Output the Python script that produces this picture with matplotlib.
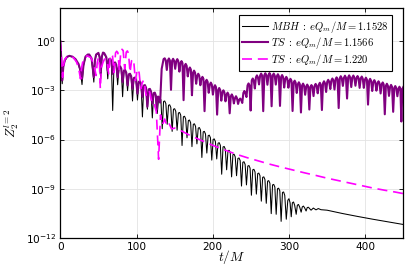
import numpy as np
import matplotlib
matplotlib.use("Agg")
import matplotlib.pyplot as plt
from matplotlib.font_manager import FontProperties
from matplotlib.ticker import FixedLocator, FuncFormatter

# values are (t/M, log10|Z|)
mbh_pts = [
    (0, 0), (1.2, -1.0), (2.5, -2.6), (4, -1.6), (6, -1.2), (9, -0.98), (12, -0.92), (16, -0.97),
    (20, -1.15), (24, -1.45), (26.5, -1.9), (28.5, -2.65), (30.5, -1.5), (33, -1.0), (36, -0.85),
    (38, -0.85), (41, -1.1), (44, -2.5), (45.5, -1.2), (47, -0.85), (50, -0.75), (51.5, -1.0),
    (53, -2.3), (54.5, -1.0), (56, -0.72), (57.5, -0.78),
    (59, -0.89), (60.5, -1.05), (62.25, -2.30), (64, -1.15), (65.5, -1.12), (67, -1.28), (68.75, -4.23),
    (70.5, -1.38), (72, -1.35), (73.5, -1.51), (75.25, -2.66), (77, -1.61), (78.5, -1.58), (80, -1.74),
    (81.75, -3.39), (83.5, -1.84), (85, -1.81), (86.5, -1.97), (88.25, -3.02), (90, -2.07), (91.5, -2.04),
    (93, -2.20), (94.75, -3.65), (96.5, -2.30), (98, -2.27), (99.5, -2.43), (101.25, -3.59), (103, -2.53),
    (104.5, -2.50), (106, -2.66), (107.75, -4.62), (109.5, -2.76), (111, -2.73), (112.5, -2.89),
    (114.25, -4.15), (116, -2.99), (117.5, -2.96), (119, -3.12), (120.75, -4.68), (122.5, -3.22),
    (124, -3.19), (125.5, -3.35), (127.25, -4.41), (129, -3.45), (130.5, -3.42), (132, -3.58),
    (133.75, -5.34), (135.5, -3.68), (137, -3.65), (138.5, -3.81), (140.25, -5.07), (142, -3.91),
    (143.5, -3.88), (145, -4.04), (146.75, -5.50), (148.5, -4.15), (150, -4.12), (151.5, -4.28),
    (153.25, -5.43), (155, -4.38), (156.5, -4.35), (158, -4.51), (159.75, -6.36), (161.5, -4.61),
    (163, -4.58), (164.5, -4.74), (166.25, -5.89), (168, -4.84), (169.5, -4.81), (171, -4.97),
    (172.75, -6.43), (174.5, -5.07), (176, -5.04), (177.5, -5.20), (179.25, -6.26), (181, -5.30),
    (182.5, -5.27), (184, -5.43), (185.75, -7.09), (187.5, -5.53), (189, -5.50), (190.5, -5.66),
    (192.25, -6.82), (194, -5.76), (195.5, -5.73), (197, -5.89), (198.75, -7.25), (200.5, -5.99),
    (202, -5.96), (203.5, -6.12), (205.25, -7.18), (207, -6.22), (208.5, -6.19), (210, -6.35),
    (211.75, -8.11), (213.5, -6.45), (215, -6.42), (216.5, -6.58), (218.25, -7.84), (220, -6.68),
    (221.5, -6.65), (223, -6.81), (224.75, -8.27), (226.5, -6.92), (228, -6.89), (229.5, -7.05),
    (231.25, -8.20), (233, -7.15), (234.5, -7.12), (236, -7.28), (237.75, -8.83), (239.5, -7.38),
    (241, -7.35), (242.5, -7.51), (244.25, -8.76), (246, -7.61), (247.5, -7.58), (249, -7.74),
    (250.75, -9.39), (252.5, -7.84), (254, -7.81), (255.5, -7.97), (257.25, -9.32), (259, -8.07),
    (260.5, -8.04), (262, -8.20), (263.75, -9.75), (265.5, -8.30), (267, -8.27), (268.5, -8.43),
    (270.25, -9.88), (272, -8.53), (273.5, -8.50), (275, -8.66), (276.75, -10.51), (278.5, -8.76),
    (280, -8.73), (281.5, -8.89), (283.25, -10.55), (285, -8.99), (286.5, -8.96), (288, -9.12),
    (289.75, -10.98), (291.5, -9.22), (293, -9.19), (294.5, -9.4), (296.5, -10.85), (298.5, -9.7),
    (300, -9.6), (301.5, -9.85), (303, -10.7), (304.5, -9.85), (306, -9.8), (307.5, -10.0),
    (309.5, -10.55), (311, -10.0), (312.5, -9.95), (314, -10.1), (316, -10.42), (317.5, -10.1),
    (319, -10.05), (320.5, -10.15), (322.5, -10.35), (324, -10.14), (325.5, -10.12), (327, -10.2),
    (329, -10.3), (332, -10.17), (335.5, -10.28), (338.5, -10.2), (342, -10.27), (350, -10.3),
    (370, -10.5), (390, -10.68), (410, -10.85), (430, -11.01), (450, -11.17),
]

ts1_pts = [
    (0, 0), (1.2, -1.0), (2.5, -2.4), (4, -1.55), (6, -1.15), (9, -0.95), (12, -0.9), (16, -0.95),
    (20, -1.1), (24, -1.4), (26.5, -1.8), (28.5, -2.3), (30.5, -1.45), (33, -0.95), (36, -0.82),
    (38, -0.82), (41, -1.05), (44, -2.2), (45.5, -1.15), (47, -0.82), (50, -0.72), (51.5, -0.95),
    (53, -2.0), (54.5, -0.95), (56, -0.7), (57.5, -0.73),
    (59, -0.85), (60.5, -1.0), (62.25, -1.8), (64, -1.1), (65.5, -1.07), (67, -1.22), (68.75, -2.0),
    (70.5, -1.33), (72, -1.30), (73.5, -1.45), (75.25, -2.2), (77, -1.56), (78.5, -1.53), (80, -1.68),
    (81.75, -2.5), (83.5, -1.79), (85, -1.76), (86.5, -1.91), (88.25, -2.7), (90, -2.02), (91.5, -1.99),
    (93, -2.14), (94.75, -2.9), (96.5, -2.25), (98, -2.22), (99.5, -2.37), (101.25, -3.2), (103, -2.48),
    (104.5, -2.45), (106, -2.60), (107.75, -3.4), (109.5, -2.71), (111, -2.68), (112.5, -2.83),
    (114.25, -4.0), (116, -2.94), (117.5, -2.91), (119, -3.06), (120.75, -3.8), (122.5, -3.17),
    (124, -3.14), (125.2, -3.3), (126.5, -4.2), (127.6, -3.4), (128.5, -3.38), (131, -3.75),
    (133, -1.7), (135.5, -1.1),
    (137, -1.05), (138.3, -1.17), (139.75, -1.76), (141.2, -1.18), (142.5, -1.06), (143.8, -1.18),
    (145.25, -2.97), (146.7, -1.20), (148, -1.08), (149.3, -1.20), (150.75, -1.69), (152.2, -1.22),
    (153.5, -1.10), (154.8, -1.22), (156.25, -1.86), (157.7, -1.34), (159, -1.22), (160.3, -1.34),
    (161.75, -3.6), (163.2, -1.51), (164.5, -1.39), (165.8, -1.51), (167.25, -2.15), (168.7, -1.73),
    (170, -1.61), (171.3, -1.73), (172.75, -3.3), (174.2, -1.92), (175.5, -1.80), (176.8, -1.92),
    (178.25, -2.6), (179.7, -2.11), (181, -1.99), (182.3, -2.11), (183.75, -2.69), (185.2, -2.30),
    (186.5, -2.18), (187.8, -2.30), (189.25, -4.27), (190.7, -2.48), (192, -2.36), (193.3, -2.48),
    (194.75, -3.15), (196.2, -2.65), (197.5, -2.53), (198.8, -2.65), (200.25, -3.26), (201.7, -2.81),
    (203, -2.69), (204.3, -2.81), (205.75, -4.48), (207.2, -2.98), (208.5, -2.86), (209.8, -2.98),
    (211.25, -3.63), (212.7, -3.12), (214, -3.00), (215.3, -3.12), (216.75, -3.67), (218.2, -3.26),
    (219.5, -3.14), (220.8, -3.26), (222.25, -4.4), (223.7, -3.37), (225, -3.25), (226.3, -3.37),
    (227.75, -3.8), (229.2, -3.48), (230.5, -3.36), (231.8, -3.48), (233.25, -3.83), (234.7, -3.58),
    (236, -3.50), (237.3, -3.58), (238.75, -3.77), (240.2, -3.16), (241.5, -3.04), (242.8, -3.16),
    (244.25, -3.41), (245.7, -2.70), (247, -2.58), (248.3, -2.70), (249.75, -4.23), (251.2, -2.40),
    (252.5, -2.28), (253.8, -2.40), (255.25, -2.89), (256.7, -2.21), (258, -2.09), (259.3, -2.21),
    (260.75, -2.64), (262.2, -2.10), (263.5, -1.98), (264.8, -2.10), (266.25, -4.27), (267.7, -2.08),
    (269, -1.96), (270.3, -2.08), (271.75, -2.66), (273.2, -2.07), (274.5, -1.95), (275.8, -2.07),
    (277.25, -3.97), (278.7, -2.10), (280, -1.98), (281.3, -2.10), (282.75, -2.65), (284.2, -2.14),
    (285.5, -2.02), (286.8, -2.14), (288.25, -3.95), (289.7, -2.19), (291, -2.07), (292.3, -2.19),
    (293.75, -2.83), (295.2, -2.30), (296.5, -2.18), (297.8, -2.30), (299.25, -2.84), (300.7, -2.42),
    (302, -2.30), (303.3, -2.42), (304.75, -4.26), (306.2, -2.53), (307.5, -2.41), (308.8, -2.53),
    (310.25, -3.16), (311.7, -2.63), (313, -2.51), (314.3, -2.63), (315.75, -4.35), (317.2, -2.71),
    (318.5, -2.59), (319.8, -2.71), (321.25, -3.27), (322.7, -2.77), (324, -2.65), (325.3, -2.77),
    (326.75, -4.17), (328.2, -2.80), (329.5, -2.68), (330.8, -2.80), (332.25, -3.35), (333.7, -2.73),
    (335, -2.61), (336.3, -2.73), (337.75, -3.18), (339.2, -2.66), (340.5, -2.54), (341.8, -2.66),
    (343.25, -4.2), (344.7, -2.57), (346, -2.45), (347.3, -2.57), (348.75, -3.1), (350.2, -2.48),
    (351.5, -2.36), (352.8, -2.48), (354.25, -2.92), (355.7, -2.40), (357, -2.28), (358.3, -2.40),
    (359.75, -2.95), (361.2, -2.33), (362.5, -2.21), (363.8, -2.33), (365.25, -4.08), (366.7, -2.26),
    (368, -2.14), (369.3, -2.26), (370.75, -2.73), (372.2, -2.23), (373.5, -2.11), (374.8, -2.23),
    (376.25, -3.5), (377.7, -2.21), (379, -2.09), (380.3, -2.21), (381.75, -2.8), (383.2, -2.22),
    (384.5, -2.10), (385.8, -2.22), (387.25, -2.72), (388.7, -2.25), (390, -2.13), (391.3, -2.25),
    (392.75, -2.85), (394.2, -2.28), (395.5, -2.16), (396.8, -2.28), (398.25, -2.85), (399.7, -2.35),
    (401, -2.23), (402.3, -2.35), (403.75, -3.87), (405.2, -2.42), (406.5, -2.30), (407.8, -2.42),
    (409.25, -3.04), (410.7, -2.50), (412, -2.38), (413.3, -2.50), (414.75, -3.02), (416.2, -2.57),
    (417.5, -2.45), (418.8, -2.57), (420.25, -3.19), (421.7, -2.64), (423, -2.52), (424.3, -2.64),
    (425.75, -4.46), (427.2, -2.72), (428.5, -2.60), (429.8, -2.72), (431.25, -3.34), (432.7, -2.79),
    (434, -2.67), (435.3, -2.79), (436.75, -4.31), (438.2, -2.86), (439.5, -2.74), (440.8, -2.86),
    (442.25, -3.36), (443.7, -2.90), (445, -2.78), (446.2, -2.9), (447.5, -4.9), (448.8, -2.92),
    (450, -2.80),
]

ts2_pts = [
    (0, 0), (1.5, -1.0), (3, -2.2), (4.5, -1.4), (6, -1.1), (10, -0.9), (17, -1.0), (21, -1.25),
    (23, -1.5), (25, -1.9), (26.5, -2.3), (28, -1.6), (30, -1.15), (35, -0.9), (40, -1.0), (44, -1.4),
    (47, -2.1), (48.5, -1.3), (50, -1.0), (51.5, -1.5), (52.5, -2.9), (54, -1.6), (56, -1.3), (58, -1.1),
    (60, -1.1), (61.5, -1.25), (63.5, -2.0), (65.5, -0.95), (67, -0.8), (68.5, -0.9), (70.5, -1.9),
    (72.5, -0.72), (74, -0.62), (75.5, -0.7), (77.5, -1.8), (79.5, -0.58), (81, -0.5), (82.5, -0.58),
    (84.5, -1.7), (86.5, -0.68), (88, -0.6), (89.5, -0.75), (91.5, -1.9), (93.5, -1.2), (95, -1.1),
    (96.5, -1.3), (98.5, -2.4), (100.5, -1.85), (102, -1.7), (103.5, -1.95), (105.5, -2.9),
    (107.5, -2.55), (109, -2.4), (110.5, -2.6), (112.5, -3.3), (114.5, -3.1), (116, -3.0),
    (117.5, -3.15), (119.5, -3.6), (121.5, -3.85), (123, -3.8), (126, -4.3), (129, -7.2),
    (131.5, -4.5), (134, -5.1), (137, -4.75), (140, -5.2), (143, -5.05), (146, -5.35), (150, -5.3),
    (160, -5.5), (170, -5.74), (185, -6.05), (200, -6.35), (215, -6.62), (230, -6.88), (245, -7.1),
    (260, -7.3), (275, -7.5), (290, -7.68), (305, -7.85), (320, -8.02), (335, -8.18), (350, -8.35),
    (365, -8.5), (380, -8.65), (395, -8.8), (410, -8.95), (425, -9.08), (440, -9.2), (450, -9.29),
]

labels = [r"$MBH\;:\;eQ_m/M = 1.1528$", r"$TS\;:\;eQ_m/M = 1.1566$", r"$TS\;:\;eQ_m/M = 1.220$"]
xticks = [0, 100, 200, 300, 400]
yticks = [1e0, 1e-3, 1e-6, 1e-9, 1e-12]

fig = plt.figure(figsize=(4.11, 2.74), dpi=100)
ax = fig.add_axes([0.1467, 0.131, 0.8345, 0.839])

t, lz = np.array(mbh_pts).T
ax.plot(t, 10 ** lz, color="black", lw=0.75, label=labels[0])
t, lz = np.array(ts1_pts).T
ax.plot(t, 10 ** lz, color="purple", lw=1.5, label=labels[1])
t, lz = np.array(ts2_pts).T
ax.plot(t, 10 ** lz, color="#ff00ff", lw=1.2, dashes=(6, 3.5), label=labels[2])

ax.set_yscale("log")
ax.set_xlim(0, 450)
ax.set_ylim(1e-12, 1e2)
ax.xaxis.set_major_locator(FixedLocator(xticks))
ax.yaxis.set_major_locator(FixedLocator(yticks))
ax.yaxis.set_minor_locator(FixedLocator([]))
ax.yaxis.set_major_formatter(FuncFormatter(lambda v, p: r"$10^{%d}$" % round(np.log10(v))))
ax.tick_params(which="both", direction="in", length=3, width=0.6, labelsize=7.6,
               top=True, right=True, pad=3)
ax.grid(True, color="#e3e3e3", lw=0.6)
for s in ax.spines.values():
    s.set_linewidth(0.9)

ax.set_xlabel(r"$t/M$", fontsize=9.5, math_fontfamily="cm")
ax.set_ylabel(r"$Z_2^{l=2}$", fontsize=9.5, math_fontfamily="cm")
ax.xaxis.set_label_coords(0.5, -0.045)
ax.yaxis.set_label_coords(-0.115, 0.5)

leg = ax.legend(loc="upper right", bbox_to_anchor=(0.967, 0.971), borderaxespad=0,
                prop=FontProperties(size=7.6, math_fontfamily="cm"), fancybox=False,
                framealpha=1, edgecolor="black", handlelength=2.4, labelspacing=0.05,
                borderpad=0.35, handletextpad=0.3)
leg.get_frame().set_linewidth(0.8)

fig.savefig("out.png", dpi=100)
